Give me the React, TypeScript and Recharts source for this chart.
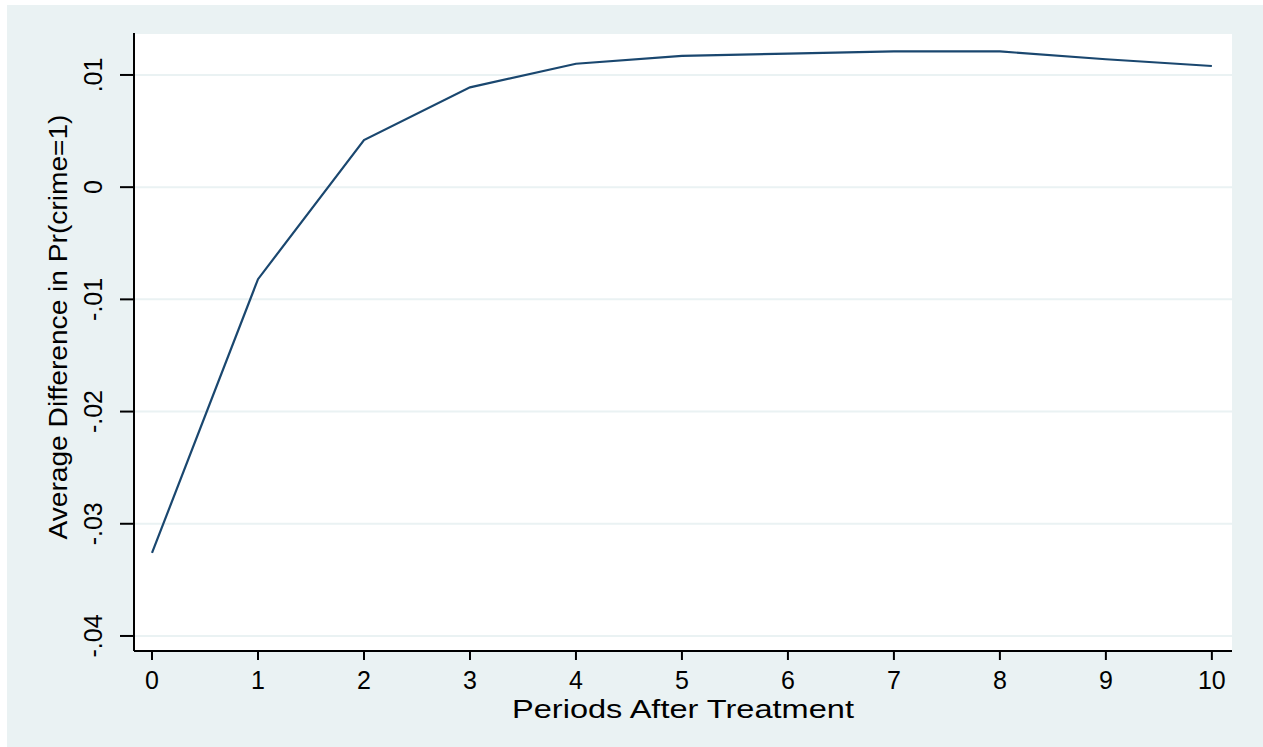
import React from 'react'
import { LineChart, Line, XAxis, YAxis, CartesianGrid, Label } from 'recharts'

const periods = [0, 1, 2, 3, 4, 5, 6, 7, 8, 9, 10]
const avgDiff = [-0.0326, -0.0082, 0.0042, 0.0089, 0.011, 0.0117, 0.0119, 0.0121, 0.0121, 0.0114, 0.0108]
const yTicks = [-0.04, -0.03, -0.02, -0.01, 0, 0.01]
const xTitle = 'Periods After Treatment'
const yTitle = 'Average Difference in Pr(crime=1)'

const data = periods.map((p, i) => ({ period: p, diff: avgDiff[i] }))

const FONT = 'Arial, "Liberation Sans", sans-serif'
const BG = '#EAF2F3'
const NAVY = '#1A476F'

// stata style: -.04, 0, .01
const fmt = (v: number) => {
  if (Math.abs(v) < 1e-9) return '0'
  return (v < 0 ? '-' : '') + Math.abs(v).toFixed(2).replace(/^0/, '')
}

function YTick(props: any) {
  const { x, y, payload } = props
  const cx = x - 27
  return (
    <text
      x={cx}
      y={y}
      dy="0.35em"
      textAnchor="middle"
      fontSize={25}
      fontFamily={FONT}
      fill="#000"
      transform={`rotate(-90, ${cx}, ${y})`}
    >
      {fmt(payload.value)}
    </text>
  )
}

export default function App() {
  return (
    <div style={{ position: 'absolute', left: 7, top: 5, width: 1256, height: 742, background: BG }}>
      <LineChart width={1256} height={742} data={data} margin={{ top: 28, right: 31, left: 27, bottom: 36 }}>
        <CartesianGrid vertical={false} stroke={BG} strokeWidth={2} fill="#fff" />
        <XAxis
          dataKey="period"
          type="number"
          domain={[-0.17, 10.19]}
          ticks={periods}
          allowDataOverflow
          height={60}
          tickSize={9}
          tickMargin={11}
          interval={0}
          axisLine={{ stroke: '#000', strokeWidth: 2 }}
          tickLine={{ stroke: '#000', strokeWidth: 2 }}
          tick={{ fill: '#000', fontSize: 25, fontFamily: FONT }}
        >
          <Label
            content={() => (
              <text x={676} y={713} textAnchor="middle" fontSize={25} fontFamily={FONT} fill="#000" textLength={342} lengthAdjust="spacingAndGlyphs">
                {xTitle}
              </text>
            )}
          />
        </XAxis>
        <YAxis
          type="number"
          domain={[-0.04134, 0.01374]}
          ticks={yTicks}
          allowDataOverflow
          width={100}
          tickSize={14}
          tickMargin={0}
          interval={0}
          axisLine={{ stroke: '#000', strokeWidth: 2 }}
          tickLine={{ stroke: '#000', strokeWidth: 2 }}
          tick={<YTick />}
        >
          <Label
            content={() => (
              <text
                x={60}
                y={322}
                textAnchor="middle"
                fontSize={26}
                fontFamily={FONT}
                fill="#000"
                textLength={425}
                lengthAdjust="spacingAndGlyphs"
                transform="rotate(-90, 60, 322)"
              >
                {yTitle}
              </text>
            )}
          />
        </YAxis>
        <Line type="linear" dataKey="diff" stroke={NAVY} strokeWidth={2.2} dot={false} isAnimationActive={false} />
      </LineChart>
    </div>
  )
}
